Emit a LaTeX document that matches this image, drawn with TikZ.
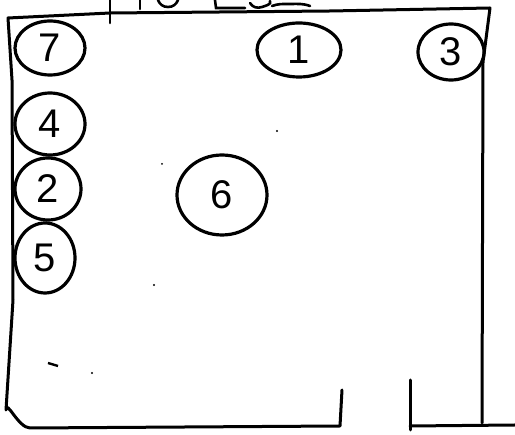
\documentclass[tikz,border=0pt]{standalone}
\usepackage{fontspec}
\setmainfont{Liberation Sans}
\usetikzlibrary{shapes.geometric}
\begin{document}
\begin{tikzpicture}[x=1pt,y=-1pt,
  wall/.style={line width=3pt,line join=round,line cap=round},
  seat/.style={ellipse,draw,line width=3.2pt,inner sep=0pt,font=\fontsize{40}{40}\selectfont},
  scrap/.style={line width=2.6pt,line cap=round}]
\useasboundingbox (0,0) rectangle (515,435);
% walls
\draw[wall] (342,390) -- (340,426) -- (30,428) to[out=180,in=90] (6,410) -- (13,300) -- (12,80) -- (8,18) -- (110,13) -- (330,11) -- (490,8) -- (483,62) -- (482,423);
\draw[wall] (410,380) -- (410,430);
\draw[wall] (410,426) -- (515,425);
% cut-off marks at the top
\draw[scrap] (110,0) -- (110,23);
\draw[scrap] (140,0) -- (140,9);
\draw[scrap] (158,0) to[out=-70,in=180] (168,7) to[out=0,in=-110] (178,0);
\draw[scrap] (215,0) -- (216,8) -- (245,8);
\draw[scrap] (250,3) to[out=-60,in=200] (262,7) to[out=20,in=-60] (270,1) (272,6) to[out=20,in=180] (290,4) to[out=0,in=160] (310,6);
% seats
\node[seat,minimum width=70pt,minimum height=54pt] (s7) at (50,48) {7};
\node[seat,minimum width=84pt,minimum height=54pt] (s1) at (299,50) {1};
\node[seat,minimum width=66pt,minimum height=56pt] (s3) at (451,52) {3};
\node[seat,minimum width=70pt,minimum height=62pt] (s4) at (50,124) {4};
\node[seat,minimum width=66pt,minimum height=62pt] (s2) at (48,189) {2};
\node[seat,minimum width=60pt,minimum height=70pt] (s5) at (45,258) {5};
\node[seat,minimum width=90pt,minimum height=80pt] (s6) at (222,195) {6};
% stray specks
\fill (277,131) circle (1.2pt);
\fill (162,164) circle (1pt);
\fill (154,285) circle (1.2pt);
\draw[line width=2.4pt] (48,363) -- (58,366);
\fill (92,373) circle (1.2pt);
\end{tikzpicture}
\end{document}
